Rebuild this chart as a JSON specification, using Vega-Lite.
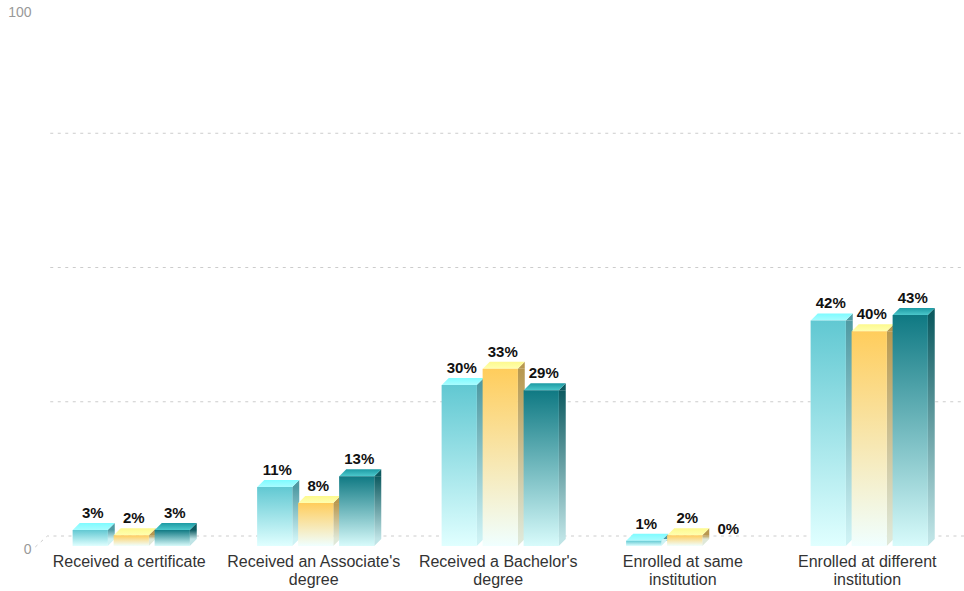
{
"$schema":"https://vega.github.io/schema/vega-lite/v6.json",
"autosize":{"type":"none"},
"padding":{"left":39,"top":9,"right":2.5,"bottom":45},
"width":922.5,"height":537,
"background":"white",
"config":{"view":{"stroke":null},"font":"Liberation Sans"},
"layer":[
{"data":{"values":[{"category":"Received a certificate","tick":25},{"category":"Received a certificate","tick":50},{"category":"Received a certificate","tick":75}]},
 "mark":{"type":"point","shape":"M-81,-10L833,-10","size":4,"filled":false,"stroke":"#cccccc","strokeWidth":1,"strokeDash":[3,4.5],"opacity":1},
 "encoding":{"x":{"field":"category","type":"nominal"},"y":{"field":"tick","type":"quantitative","scale":{"domain":[0,100],"nice":false},"title":null,
   "axis":{"values":[0,100],"grid":false,"domain":false,"ticks":false,"labelColor":"#999999","labelFontSize":14,"labelPadding":8,"labelOffset":3.5,"labelFlush":false}}}},
{"data":{"values":[{"category":"Received a certificate","tick":0}]},
 "mark":{"type":"point","shape":"M-96,1L-84,-10L833,-10","size":4,"filled":false,"stroke":"#cccccc","strokeWidth":1,"strokeDash":[3,4.5],"opacity":1},
 "encoding":{"x":{"field":"category","type":"nominal"},"y":{"field":"tick","type":"quantitative"}}},
{"data":{"values":[
{"category":"Received a certificate","series":"Series 1","value":3},
{"category":"Received a certificate","series":"Series 2","value":2},
{"category":"Received a certificate","series":"Series 3","value":3},
{"category":"Received an Associate's degree","series":"Series 1","value":11},
{"category":"Received an Associate's degree","series":"Series 2","value":8},
{"category":"Received an Associate's degree","series":"Series 3","value":13},
{"category":"Received a Bachelor's degree","series":"Series 1","value":30},
{"category":"Received a Bachelor's degree","series":"Series 2","value":33},
{"category":"Received a Bachelor's degree","series":"Series 3","value":29},
{"category":"Enrolled at same institution","series":"Series 1","value":1},
{"category":"Enrolled at same institution","series":"Series 2","value":2},
{"category":"Enrolled at same institution","series":"Series 3","value":0},
{"category":"Enrolled at different institution","series":"Series 1","value":42},
{"category":"Enrolled at different institution","series":"Series 2","value":40},
{"category":"Enrolled at different institution","series":"Series 3","value":43}
]},
"encoding":{
 "x":{"field":"category","type":"nominal","sort":null,"title":null,
  "scale":{"domain":["Received a certificate","Received an Associate's degree","Received a Bachelor's degree","Enrolled at same institution","Enrolled at different institution"],"paddingInner":0.3333,"paddingOuter":0.1667},
  "axis":{"domain":false,"ticks":false,"labelAngle":0,"labelAlign":"center","labelColor":"#333333","labelFontSize":16,"labelPadding":7,"labelOffset":-2,"labelLineHeight":18,"labelBaseline":"top","labelLimit":400,
   "labelExpr":"{\"Received an Associate's degree\":[\"Received an Associate's\",\"degree\"],\"Received a Bachelor's degree\":[\"Received a Bachelor's\",\"degree\"],\"Enrolled at same institution\":[\"Enrolled at same\",\"institution\"],\"Enrolled at different institution\":[\"Enrolled at different\",\"institution\"]}[datum.label]||datum.label"}},
 "xOffset":{"field":"series","type":"nominal","scale":{"domain":["Series 1","Series 2","Series 3"],"paddingInner":0.14,"paddingOuter":0.07}},
 "y":{"field":"value","type":"quantitative"}
},
"layer":[
 {"transform":[{"filter":"datum.series=='Series 1'&&datum.value>0"}],
  "mark":{"type":"bar","width":7,"xOffset":-20,"y2Offset":-7,"fill":{"gradient":"linear","x1":0,"y1":0,"x2":0,"y2":1,"stops":[{"offset":0,"color":"#4f9aa3"},{"offset":1,"color":"#cdf2f4"}]}},
  "encoding":{"xOffset":null,"y2":{"datum":0}}},
 {"transform":[{"filter":"datum.series=='Series 2'&&datum.value>0"}],
  "mark":{"type":"bar","width":7,"xOffset":21,"y2Offset":-7,"fill":{"gradient":"linear","x1":0,"y1":0,"x2":0,"y2":1,"stops":[{"offset":0,"color":"#b8984f"},{"offset":1,"color":"#dfe8d8"}]}},
  "encoding":{"xOffset":null,"y2":{"datum":0}}},
 {"transform":[{"filter":"datum.series=='Series 3'&&datum.value>0"}],
  "mark":{"type":"bar","width":7,"xOffset":62,"y2Offset":-7,"fill":{"gradient":"linear","x1":0,"y1":0,"x2":0,"y2":1,"stops":[{"offset":0,"color":"#0d5a60"},{"offset":1,"color":"#bfe4e6"}]}},
  "encoding":{"xOffset":null,"y2":{"datum":0}}},
 {"transform":[{"filter":"datum.value>0"}],
  "mark":{"type":"point","shape":"M17.5,0L24.5,-7L24.5,0Z","size":4,"filled":true,"opacity":1,"strokeWidth":0},
  "encoding":{"fill":{"field":"series","legend":null,"scale":{"domain":["Series 1","Series 2","Series 3"],"range":["#4f9aa3","#b8984f","#0d5a60"]}}}},
 {"transform":[{"filter":"datum.value>0"}],
  "mark":{"type":"point","shape":"M17.5,0L17.5,-7L24.5,-7Z","size":4,"filled":true,"opacity":1,"strokeWidth":0},
  "encoding":{"y":{"datum":0},"color":{"field":"series","legend":null,"scale":{"domain":["Series 1","Series 2","Series 3"],"range":["#cdf2f4","#dfe8d8","#bfe4e6"]}}}},
 {"transform":[{"filter":"datum.series=='Series 1'&&datum.value>0"}],
  "mark":{"type":"point","shape":"M-17.5,0L17.5,0L24.5,-7L-10.5,-7Z","size":4,"filled":true,"opacity":1,"strokeWidth":0,"fill":{"gradient":"linear","x1":0,"y1":0,"x2":0,"y2":1,"stops":[{"offset":0,"color":"#7dfbff"},{"offset":1,"color":"#a8fcff"}]}}},
 {"transform":[{"filter":"datum.series=='Series 2'&&datum.value>0"}],
  "mark":{"type":"point","shape":"M-17.5,0L17.5,0L24.5,-7L-10.5,-7Z","size":4,"filled":true,"opacity":1,"strokeWidth":0,"fill":{"gradient":"linear","x1":0,"y1":0,"x2":0,"y2":1,"stops":[{"offset":0,"color":"#fdf98e"},{"offset":1,"color":"#ffffb0"}]}}},
 {"transform":[{"filter":"datum.series=='Series 3'&&datum.value>0"}],
  "mark":{"type":"point","shape":"M-17.5,0L17.5,0L24.5,-7L-10.5,-7Z","size":4,"filled":true,"opacity":1,"strokeWidth":0,"fill":{"gradient":"linear","x1":0,"y1":0,"x2":0,"y2":1,"stops":[{"offset":0,"color":"#1c9aa3"},{"offset":1,"color":"#4cc8cc"}]}}},
 {"transform":[{"filter":"datum.series=='Series 1'&&datum.value>0"}],
  "mark":{"type":"bar","fill":{"gradient":"linear","x1":0,"y1":0,"x2":0,"y2":1,"stops":[{"offset":0,"color":"#61c8d2"},{"offset":1,"color":"#e0ffff"}]}}},
 {"transform":[{"filter":"datum.series=='Series 2'&&datum.value>0"}],
  "mark":{"type":"bar","fill":{"gradient":"linear","x1":0,"y1":0,"x2":0,"y2":1,"stops":[{"offset":0,"color":"#ffcd5c"},{"offset":1,"color":"#f0ffff"}]}}},
 {"transform":[{"filter":"datum.series=='Series 3'&&datum.value>0"}],
  "mark":{"type":"bar","fill":{"gradient":"linear","x1":0,"y1":0,"x2":0,"y2":1,"stops":[{"offset":0,"color":"#0f7983"},{"offset":1,"color":"#d8fbfb"}]}}},
 {"transform":[{"calculate":"datum.value+'%'","as":"label"}],
  "mark":{"type":"text","font":"Liberation Sans","fontWeight":"bold","fontSize":15,"color":"#111111","baseline":"middle","dy":-17,"dx":2.5},
  "encoding":{"text":{"field":"label","type":"nominal"}}}
]
}
]
}
